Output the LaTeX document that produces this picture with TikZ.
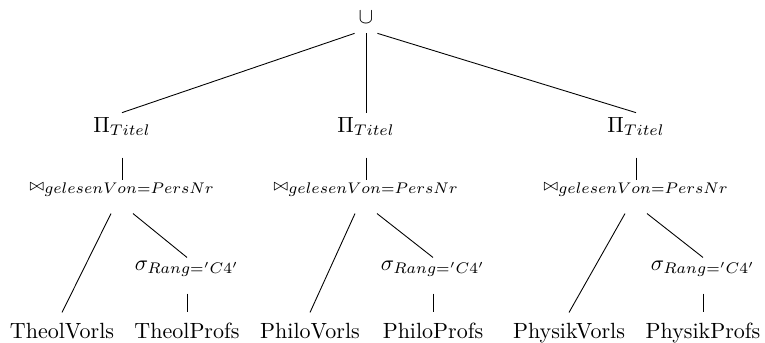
\documentclass[tikz,border=0pt]{standalone}
\usepackage{amsmath}
\tikzset{
    opnode/.style={inner sep=0pt, anchor=base},
    rootop/.style={opnode, minimum width=10pt, text depth=4.5pt},
    proj/.style={opnode, text height=8.6pt, text depth=11.4pt},
    joinop/.style={opnode, text height=4.5pt, text depth=10.5pt},
    selop/.style={opnode, text height=5.5pt, text depth=10.5pt},
    rel/.style={opnode, text height=11.4pt, text depth=0pt},
}
% one branch: projection, join, selection and the two relations
\newcommand\Zweig[6]{%
    \node[proj] (p#1) at (#2,132) {$\Pi_{Titel}$};
    \node[joinop] (j#1) at (#2,190) {$\mathord{\scriptstyle\bowtie}_{gelesenVon=PersNr}$};
    \node[rel] (v#1) at (#3,338) {#5};
    \node[selop] (s#1) at (#4,270) {$\sigma_{Rang='C4'}$};
    \node[rel] (q#1) at (#4,338) {#6};
    \draw (p#1.south) -- (j#1.north);
    \draw ([shift={(-11,0)}]j#1.south) -- (v#1.north);
    \draw ([shift={(11,0)}]j#1.south) -- (s#1.north);
    \draw (s#1.south) -- (q#1.north);
}
\begin{document}
\begin{tikzpicture}[x=0.4545pt,y=-0.4545pt]
    \useasboundingbox (0,0) rectangle (765,342);
    \node[rootop] (root) at (366,23) {$\cup$};
    \Zweig{A}{122}{62}{187}{TheolVorls}{TheolProfs}
    \Zweig{B}{366}{310}{433}{PhiloVorls}{PhiloProfs}
    \Zweig{C}{636}{569}{703}{PhysikVorls}{PhysikProfs}
    \draw (root.south west) -- (pA.north);
    \draw (root.south) -- (pB.north);
    \draw (root.south east) -- (pC.north);
\end{tikzpicture}
\end{document}
